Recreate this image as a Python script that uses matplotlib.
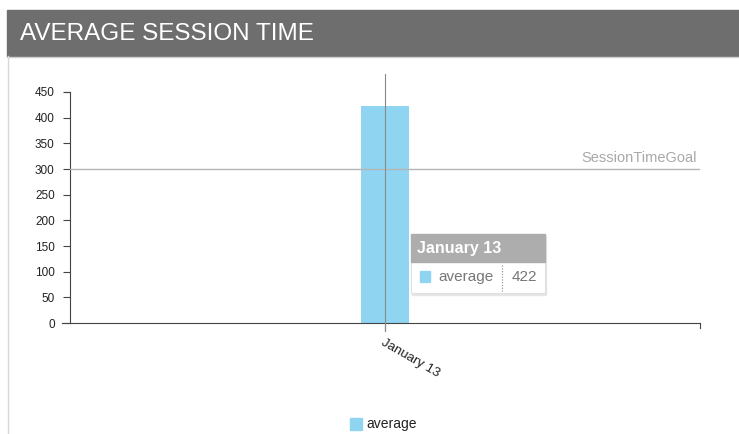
import matplotlib
matplotlib.use("Agg")
import matplotlib.pyplot as plt
from matplotlib.patches import Rectangle
from matplotlib.lines import Line2D

plt.rcParams["font.family"] = ["Liberation Sans", "DejaVu Sans"]

title = "AVERAGE SESSION TIME"
dates = ["January 13"]
average = [422]
goal = 300
goal_label = "SessionTimeGoal"
yticks = [0, 50, 100, 150, 200, 250, 300, 350, 400, 450]

W, H = 739, 434
fig = plt.figure(figsize=(W / 100, H / 100), dpi=100)


def fx(px):
    return px / W


def fy(py):
    return 1 - py / H


# header band and panel border
fig.patches.append(Rectangle((fx(7), fy(56)), fx(739 - 7), (56 - 10) / H,
                             transform=fig.transFigure, color="#6e6e6e", zorder=0))
fig.lines.append(Line2D([fx(7), 1], [fy(56.5), fy(56.5)], transform=fig.transFigure,
                        color="#cfcfcf", lw=1))
fig.lines.append(Line2D([fx(7.5), fx(7.5)], [fy(56), 0], transform=fig.transFigure,
                        color="#d8d8d8", lw=1))
fig.text(fx(20), fy(34), title, color="white", fontsize=17.5, va="center", ha="left")

ax = fig.add_axes([fx(70), fy(323), fx(700 - 70), (323 - 92) / H])
ax.set_xlim(-0.5, 0.5)
ax.set_ylim(0, 450)

x = list(range(len(dates)))
bar_color = "#8fd5f2"
ax.bar(x, average, width=0.075, color=bar_color, zorder=2)

# goal line
ax.axhline(goal, color="#b5b5b5", lw=1, zorder=3)
ax.text(0.495, goal + 8, goal_label, color="#a8a8a8", fontsize=10.5,
        ha="right", va="bottom")

# hover guide line through the category
ax.plot([0, 0], [-15, 485], color="#8a8a8a", lw=0.8, clip_on=False, zorder=4)

for s in ["top", "right"]:
    ax.spines[s].set_visible(False)
ax.spines["left"].set_color("#444444")
ax.spines["bottom"].set_color("#444444")
ax.spines["bottom"].set_bounds(-0.5, 0.5)

ax.set_yticks(yticks)
ax.tick_params(axis="y", length=5, width=0.8, color="#444444", labelsize=8.5,
               labelcolor="#222222", pad=6)
ax.set_xticks(x)
ax.set_xticklabels(dates, rotation=-30, ha="left", va="top",
                   rotation_mode="anchor", fontsize=9.5, color="#222222")
ax.tick_params(axis="x", length=6, width=0.8, color="#444444", pad=4)

# domain end markers
ax.plot([-0.5, -0.5 - 8 / 630], [0, 0], color="#444444", lw=0.8, clip_on=False)
ax.plot([0.5, 0.5], [0, -9], color="#444444", lw=0.8, clip_on=False)
ax.plot([-0.5, -0.5 - 5 / 630], [450, 450], color="#444444", lw=0.8, clip_on=False)

# tooltip
tx0, tx1 = 411, 545
fig.patches.append(Rectangle((fx(tx0 + 1), fy(295)), fx(tx1 - tx0), (295 - 236) / H,
                             transform=fig.transFigure, color="#e6e6e6", zorder=5))
fig.patches.append(Rectangle((fx(tx0), fy(293)), fx(tx1 - tx0), (293 - 262) / H,
                             transform=fig.transFigure, facecolor="white",
                             edgecolor="#e0e0e0", lw=0.8, zorder=6))
fig.patches.append(Rectangle((fx(tx0), fy(262)), fx(tx1 - tx0), (262 - 234) / H,
                             transform=fig.transFigure, color="#adadad", zorder=6))
fig.text(fx(417), fy(248), dates[0], color="white", fontsize=11.5, fontweight="bold",
         va="center", ha="left", zorder=7)
fig.patches.append(Rectangle((fx(420), fy(282)), fx(10), 11 / H,
                             transform=fig.transFigure, color=bar_color, zorder=7))
fig.text(fx(438), fy(277), "average", color="#777777", fontsize=11,
         va="center", ha="left", zorder=7)
fig.lines.append(Line2D([fx(502), fx(502)], [fy(265), fy(291)], transform=fig.transFigure,
                        color="#888888", lw=0.8, ls=(0, (1, 1.5)), zorder=7))
fig.text(fx(512), fy(277), str(average[0]), color="#777777", fontsize=11,
         va="center", ha="left", zorder=7)

# legend
fig.patches.append(Rectangle((fx(350), fy(430)), fx(12), 12 / H,
                             transform=fig.transFigure, color=bar_color))
fig.text(fx(366), fy(424), "average", color="#222222", fontsize=10,
         va="center", ha="left")

fig.savefig("out.png", dpi=100)
